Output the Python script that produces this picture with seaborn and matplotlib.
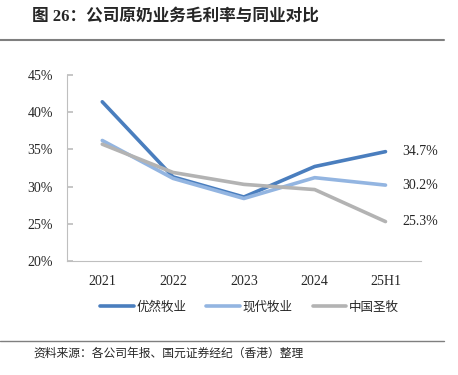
import pandas as pd
import seaborn as sns
import matplotlib.pyplot as plt
from matplotlib.lines import Line2D

periods = ['2021', '2022', '2023', '2024', '25H1']
youran = [41.4, 31.3, 28.6, 32.7, 34.7]
xiandai = [36.2, 31.1, 28.4, 31.2, 30.2]
shengmu = [35.7, 31.9, 30.3, 29.6, 25.3]
names = ['优然牧业', '现代牧业', '中国圣牧']
colors = ['#4a7ebe', '#93b5e1', '#b3b3b3']

df = pd.DataFrame({
    'period': periods * 3,
    'margin': youran + xiandai + shengmu,
    'company': [names[0]] * 5 + [names[1]] * 5 + [names[2]] * 5,
})

sns.set_theme(style='white')
plt.rcParams['font.family'] = ['Liberation Serif', 'Noto Sans CJK SC', 'DejaVu Sans']

fig = plt.figure(figsize=(4.58, 3.75), dpi=100)
ax = fig.add_axes([0.146, 0.304, 0.773, 0.496])

sns.lineplot(data=df, x='period', y='margin', hue='company', hue_order=names,
             palette=colors, linewidth=2.6, ax=ax, legend=False, sort=False)

ax.set_xlim(-0.5, 4.5)
ax.set_ylim(20, 45)
ax.set_yticks([20, 25, 30, 35, 40, 45])
ax.set_yticklabels([f'{v}%' for v in [20, 25, 30, 35, 40, 45]], fontsize=10)
ax.set_xticks(range(5))
ax.set_xticklabels(periods, fontsize=10)
ax.set_xticks([0.5, 1.5, 2.5, 3.5, 4.5], minor=True)
ax.tick_params(axis='x', which='major', length=0, pad=10)
ax.tick_params(axis='x', which='minor', length=4, color='#bfbfbf', direction='out')
ax.tick_params(axis='y', length=4, color='#bfbfbf', direction='in', left=True, pad=10)
ax.set_xlabel('')
ax.set_ylabel('')
for s in ['top', 'right']:
    ax.spines[s].set_visible(False)
for s in ['left', 'bottom']:
    ax.spines[s].set_color('#bfbfbf')
    ax.spines[s].set_linewidth(0.8)

# end labels
for vals in [youran, xiandai, shengmu]:
    ax.annotate(f'{vals[-1]}%', xy=(4, vals[-1]), xytext=(12, 0),
                textcoords='offset points', va='center', fontsize=10)

handles = [Line2D([], [], color=c, linewidth=2.6) for c in colors]
fig.legend(handles, names, loc='center', bbox_to_anchor=(0.545, 0.181), ncol=3,
           frameon=False, handlelength=2.7, handletextpad=0.2,
           columnspacing=1.6, prop={'family': ['Noto Sans CJK SC'], 'size': 9})

fig.text(0.07, 0.955, '图 26：公司原奶业务毛利率与同业对比', fontsize=12,
         fontweight='bold', family=['Liberation Serif', 'Noto Sans CJK SC', 'DejaVu Sans'],
         va='center')
fig.add_artist(Line2D([0, 0.97], [0.893, 0.893], color='#7f7f7f', linewidth=1.5))
fig.add_artist(Line2D([0, 0.97], [0.091, 0.091], color='#7f7f7f', linewidth=1.0))
fig.text(0.072, 0.057, '资料来源：各公司年报、国元证券经纪（香港）整理', fontsize=8.5,
         style='italic', family=['Noto Sans CJK SC', 'DejaVu Sans'], va='center')

fig.savefig('out.png', dpi=100)
